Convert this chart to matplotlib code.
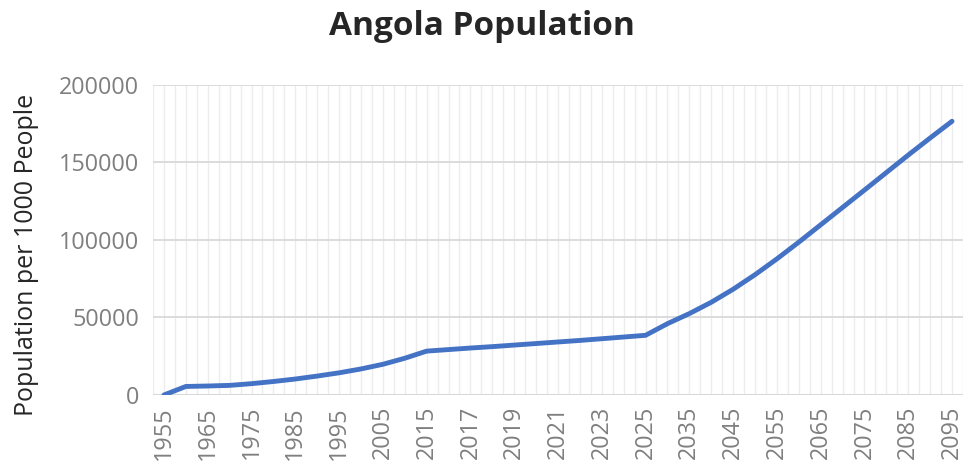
import matplotlib
matplotlib.use("Agg")
import matplotlib.pyplot as plt
import numpy as np

years = [1955, 1960, 1965, 1970, 1975, 1980, 1985, 1990, 1995, 2000, 2005, 2010, 2015,
         2016, 2017, 2018, 2019, 2020, 2021, 2022, 2023, 2024, 2025,
         2030, 2035, 2040, 2045, 2050, 2055, 2060, 2065, 2070, 2075, 2080, 2085, 2090, 2095]
population = [0, 5500, 5800, 6200, 7300, 8700, 10300, 12200, 14300, 16800, 19800, 23700, 28300,
              29300, 30300, 31200, 32200, 33200, 34200, 35200, 36300, 37400, 38500,
              46000, 52500, 59800, 68200, 77600, 87800, 98600, 109800, 121000, 132200,
              143500, 154800, 165800, 176600]
y_ticks = [0, 50000, 100000, 150000, 200000]

plt.rcParams['font.family'] = ['Open Sans', 'DejaVu Sans']

fig = plt.figure(figsize=(9.72, 4.67), dpi=100)
ax = fig.add_axes([0.1574, 0.1542, 0.8333, 0.6638])

x = np.arange(len(years))
ax.plot(x, population, color='#4472C4', linewidth=3.5, solid_capstyle='round',
        solid_joinstyle='round', zorder=3)

ax.set_xlim(-0.5, len(years) - 0.5)
ax.set_ylim(0, 200000)

# light vertical gridlines at category edges and centres
for gx in np.arange(-0.5, len(years), 0.5):
    ax.axvline(gx, color='#ececec', linewidth=1.0, zorder=1)
for gy in y_ticks[1:]:
    ax.axhline(gy, color='#d9d9d9', linewidth=1.3, zorder=2)
ax.axhline(0, color='#d9d9d9', linewidth=1.5, zorder=2)

for s in ax.spines.values():
    s.set_visible(False)

ax.set_yticks(y_ticks)
ax.set_yticklabels([str(v) for v in y_ticks])
ax.set_xticks(x[::2])
ax.set_xticklabels([str(y) for y in years[::2]], rotation=90)
ax.tick_params(axis='both', length=0, labelsize=16.8, labelcolor='#7f7f7f')
ax.tick_params(axis='y', pad=10)
ax.tick_params(axis='x', pad=8)

ax.set_ylabel('Population per 1000 People', fontsize=18, color='#262626')
ax.yaxis.set_label_coords(-0.141, 0.452)
fig.text(0.4954, 0.944, 'Angola Population', ha='center', va='center',
         fontsize=24, fontweight='bold', color='#262626')

fig.savefig('out.png', dpi=100, facecolor='white')
